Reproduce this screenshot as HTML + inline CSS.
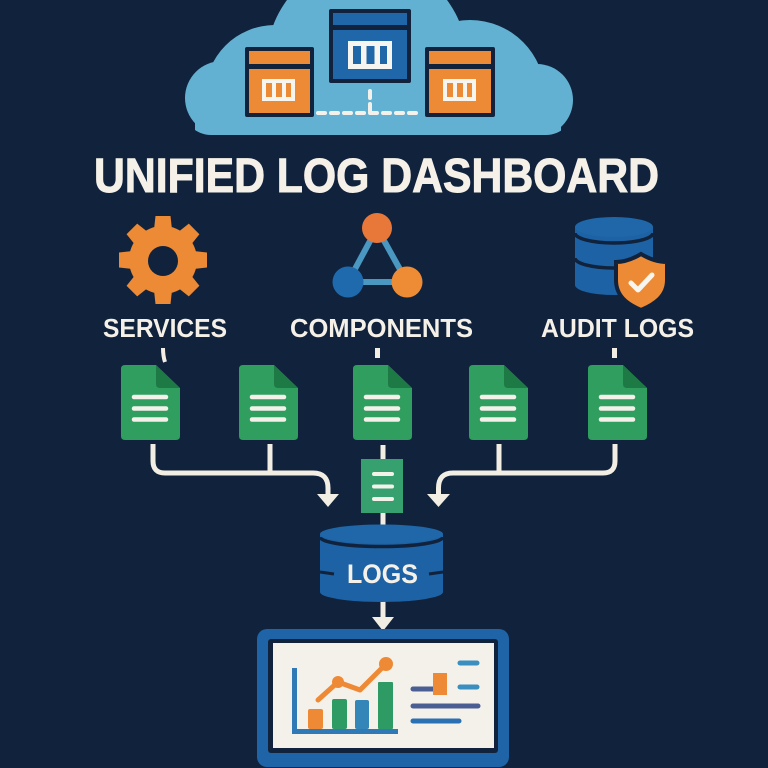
<!DOCTYPE html>
<html>
<head>
<meta charset="utf-8">
<style>
  html,body{margin:0;padding:0;background:#10223c;}
  svg{display:block;}
  text{font-family:"Liberation Sans",Arial,sans-serif;font-weight:bold;}
</style>
</head>
<body>
<svg width="768" height="768" viewBox="0 0 768 768" xmlns="http://www.w3.org/2000/svg">
  <defs>
    <clipPath id="cloudclip"><rect x="183" y="-60" width="391" height="195" rx="28"/></clipPath>
    <g id="doc">
      <path d="M4 0 H35 L59 23 V71 Q59 75 55 75 H4 Q0 75 0 71 V4 Q0 0 4 0 Z" fill="#2f9e5f"/>
      <path d="M35 0 L59 23 H39 Q35 23 35 19 Z" fill="#1e7a44"/>
      <g stroke="#f4f1ea" stroke-width="4.5" stroke-linecap="round">
        <line x1="13" y1="32" x2="45" y2="32"/>
        <line x1="13" y1="43.5" x2="45" y2="43.5"/>
        <line x1="13" y1="54.5" x2="45" y2="54.5"/>
      </g>
    </g>
  </defs>
  <rect x="0" y="0" width="768" height="768" fill="#10223c"/>

  <!-- Cloud -->
  <g fill="#63b1d2" clip-path="url(#cloudclip)">
    <rect x="195" y="80" width="366" height="60"/>
    <circle cx="222" cy="98" r="37"/>
    <circle cx="275" cy="95" r="70"/>
    <circle cx="367" cy="60" r="100"/>
    <circle cx="470" cy="95" r="75"/>
    <circle cx="537" cy="100" r="36"/>
  </g>

  <!-- dashed connectors in cloud -->
  <g stroke="#f4f1ea" stroke-width="4" stroke-linecap="round" fill="none">
    <line x1="318" y1="113" x2="421" y2="113" stroke-dasharray="7 6"/>
    <line x1="370" y1="91" x2="370" y2="111" stroke-dasharray="7 6"/>
  </g>

  <!-- Blue center box -->
  <rect x="329" y="9" width="82" height="74" fill="#10223c" rx="2"/>
  <rect x="333" y="13" width="74" height="12" fill="#1f67a8"/>
  <rect x="333" y="30" width="74" height="49" fill="#1f67a8"/>
  <rect x="348" y="41" width="44" height="28" fill="#f7f5ef"/>
  <g fill="#1f67a8">
    <rect x="353" y="46" width="8" height="18"/>
    <rect x="366.5" y="46" width="8" height="18"/>
    <rect x="380" y="46" width="7" height="18"/>
  </g>

  <!-- Left orange box -->
  <rect x="245" y="47" width="69" height="70" fill="#10223c" rx="2"/>
  <rect x="249" y="51" width="61" height="13" fill="#ec8a35"/>
  <rect x="249" y="69" width="61" height="44" fill="#ec8a35"/>
  <rect x="262" y="79" width="33" height="22" fill="#f7f5ef"/>
  <g fill="#ec8a35">
    <rect x="266" y="83" width="6" height="14"/>
    <rect x="276" y="83" width="6" height="14"/>
    <rect x="286" y="83" width="5" height="14"/>
  </g>

  <!-- Right orange box -->
  <rect x="425" y="47" width="70" height="70" fill="#10223c" rx="2"/>
  <rect x="429" y="51" width="62" height="13" fill="#ec8a35"/>
  <rect x="429" y="69" width="62" height="44" fill="#ec8a35"/>
  <rect x="443" y="79" width="33" height="22" fill="#f7f5ef"/>
  <g fill="#ec8a35">
    <rect x="447" y="83" width="6" height="14"/>
    <rect x="457" y="83" width="6" height="14"/>
    <rect x="467" y="83" width="5" height="14"/>
  </g>

  <!-- Title -->
  <text x="94" y="192" font-size="48" fill="#f5f1e8" stroke="#f5f1e8" stroke-width="1" textLength="565" lengthAdjust="spacingAndGlyphs">UNIFIED LOG DASHBOARD</text>

  <!-- Gear -->
  <g fill="#ec8a35" transform="translate(163,260)">
    <circle cx="0" cy="0" r="34"/>
    <g>
      <path d="M-7.5 -44 H7.5 L9.5 -26 H-9.5 Z"/>
      <path d="M-7.5 -44 H7.5 L9.5 -26 H-9.5 Z" transform="rotate(45)"/>
      <path d="M-7.5 -44 H7.5 L9.5 -26 H-9.5 Z" transform="rotate(90)"/>
      <path d="M-7.5 -44 H7.5 L9.5 -26 H-9.5 Z" transform="rotate(135)"/>
      <path d="M-7.5 -44 H7.5 L9.5 -26 H-9.5 Z" transform="rotate(180)"/>
      <path d="M-7.5 -44 H7.5 L9.5 -26 H-9.5 Z" transform="rotate(225)"/>
      <path d="M-7.5 -44 H7.5 L9.5 -26 H-9.5 Z" transform="rotate(270)"/>
      <path d="M-7.5 -44 H7.5 L9.5 -26 H-9.5 Z" transform="rotate(315)"/>
    </g>
    <circle cx="0" cy="1" r="15" fill="#10223c"/>
  </g>

  <!-- Components triangle -->
  <g stroke="#4a98c2" stroke-width="6" fill="none">
    <line x1="377" y1="228" x2="348" y2="282"/>
    <line x1="377" y1="228" x2="407" y2="282"/>
    <line x1="348" y1="282" x2="407" y2="282"/>
  </g>
  <circle cx="377" cy="228" r="15" fill="#e8773a"/>
  <circle cx="348" cy="282" r="15.5" fill="#1e6aad"/>
  <circle cx="407" cy="282" r="15.5" fill="#ee8b35"/>

  <!-- Audit DB -->
  <path d="M575 227 V285 A39 10 0 0 0 653 285 V227 Z" fill="#1d62a4"/>
  <ellipse cx="614" cy="227" rx="39" ry="10" fill="#1f67a8"/>
  <path d="M575 233 A39 10 0 0 0 653 233" stroke="#10223c" stroke-width="3.5" fill="none"/>
  <path d="M575 258 A39 10 0 0 0 653 258" stroke="#10223c" stroke-width="3.5" fill="none"/>
  <path d="M641 254 C651 260 659 262 667 262 V280 C667 296 655 304 641 310 C627 304 616 296 616 280 V262 C623 262 631 260 641 254 Z" fill="#ec8a35" stroke="#10223c" stroke-width="4"/>
  <path d="M631 283 L638 290 L652 275" stroke="#f7f5ef" stroke-width="5" stroke-linecap="round" stroke-linejoin="round" fill="none"/>

  <!-- Labels -->
  <g fill="#f5f1e8" font-size="25.5">
    <text x="103" y="337" textLength="124" lengthAdjust="spacingAndGlyphs">SERVICES</text>
    <text x="290" y="337" textLength="183" lengthAdjust="spacingAndGlyphs">COMPONENTS</text>
    <text x="541" y="337" textLength="153" lengthAdjust="spacingAndGlyphs">AUDIT LOGS</text>
  </g>

  <!-- stubs under labels -->
  <g stroke="#f2eee4" stroke-width="4" fill="none">
    <path d="M163 348 Q163 356 165 362"/>
    <line x1="377.5" y1="348" x2="377.5" y2="358" stroke-width="5"/>
    <line x1="614.5" y1="348" x2="614.5" y2="358" stroke-width="5"/>
  </g>

  <!-- Documents -->
  <use href="#doc" x="121" y="365"/>
  <use href="#doc" x="239" y="365"/>
  <use href="#doc" x="353" y="365"/>
  <use href="#doc" x="469" y="365"/>
  <use href="#doc" x="588" y="365"/>

  <!-- Connectors -->
  <g stroke="#f2eee4" stroke-width="5" fill="none" stroke-linejoin="round">
    <path d="M153 444 V461 Q153 473 165 473 H313 Q328 473 328 488 V496"/>
    <path d="M270 444 V473"/>
    <path d="M615 444 V461 Q615 473 603 473 H453 Q438.5 473 438.5 488 V496"/>
    <path d="M499 444 V473"/>
    <path d="M383 445 V460"/>
    <path d="M383 512 V527"/>
    <path d="M383 600 V619"/>
  </g>
  <g fill="#f2eee4">
    <polygon points="317,494 339,494 328,507"/>
    <polygon points="427,494 450,494 438.5,507"/>
    <polygon points="372,617 394,617 383,631"/>
  </g>

  <!-- small doc -->
  <rect x="361" y="459" width="42" height="54" fill="#36a06e"/>
  <g stroke="#f4f1ea" stroke-width="4" stroke-linecap="round">
    <line x1="374" y1="474" x2="392" y2="474"/>
    <line x1="374" y1="486.5" x2="392" y2="486.5"/>
    <line x1="374" y1="499" x2="392" y2="499"/>
  </g>

  <!-- LOGS cylinder -->
  <path d="M320 534 V592 A61.5 10 0 0 0 443 592 V534 Z" fill="#1d62a4"/>
  <ellipse cx="381.5" cy="534" rx="61.5" ry="9.5" fill="#1f67a8"/>
  <path d="M320 537 A61.5 9.5 0 0 0 443 537" stroke="#10223c" stroke-width="3.5" fill="none"/>
  <g stroke="#10223c" stroke-width="3">
    <line x1="320" y1="572" x2="334" y2="574"/>
    <line x1="429" y1="574" x2="443" y2="572"/>
  </g>
  <text x="347" y="583" font-size="27" fill="#f5f1e8" textLength="71" lengthAdjust="spacingAndGlyphs">LOGS</text>

  <!-- Dashboard -->
  <rect x="257" y="629" width="252" height="138" rx="10" fill="#1f64a6"/>
  <rect x="268" y="639" width="230" height="114" rx="3" fill="#10223c"/>
  <rect x="273" y="643" width="221" height="105" fill="#f4f1ea"/>

  <rect x="292" y="668" width="5" height="66" fill="#2f7ab6"/>
  <rect x="292" y="729" width="106" height="5" fill="#2f7ab6"/>
  <rect x="308" y="709" width="15" height="20" rx="2" fill="#ee8a35"/>
  <rect x="332" y="699" width="15" height="30" rx="2" fill="#2e9a64"/>
  <rect x="355" y="700" width="14" height="29" rx="2" fill="#3485b8"/>
  <rect x="378" y="682" width="15" height="47" rx="1" fill="#2e9a64"/>
  <polyline points="318,700 338,682 360,690 386,664" stroke="#ee8a35" stroke-width="5" fill="none" stroke-linecap="round" stroke-linejoin="round"/>
  <circle cx="338" cy="682" r="6" fill="#ee8a35"/>
  <circle cx="386" cy="664" r="7" fill="#ee8a35"/>

  <g stroke-width="5" stroke-linecap="round">
    <line x1="460" y1="663" x2="477" y2="663" stroke="#3a8fc0"/>
    <line x1="413" y1="689" x2="434" y2="689" stroke="#4a5e94"/>
    <line x1="460" y1="687" x2="477" y2="687" stroke="#3a8fc0"/>
    <line x1="413" y1="706" x2="478" y2="706" stroke="#4a5e94"/>
    <line x1="413" y1="721" x2="459" y2="721" stroke="#2b70b2"/>
  </g>
  <rect x="433" y="673" width="14" height="22" fill="#ee8a35"/>
</svg>
</body>
</html>
